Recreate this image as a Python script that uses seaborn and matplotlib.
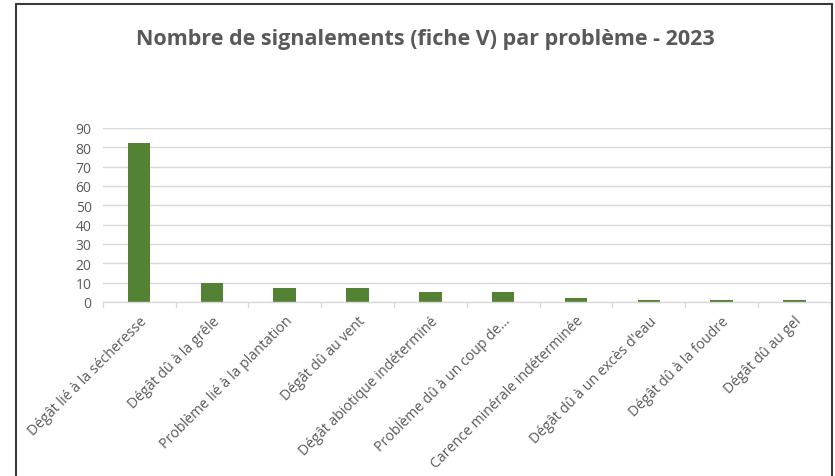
import matplotlib
matplotlib.use("Agg")
import matplotlib.pyplot as plt
import pandas as pd
import seaborn as sns
from matplotlib.lines import Line2D

problemes = [
    "Dégât lié à la sécheresse",
    "Dégât dû à la grêle",
    "Problème lié à la plantation",
    "Dégât dû au vent",
    "Dégât abiotique indéterminé",
    "Problème dû à un coup de…",
    "Carence minérale indéterminée",
    "Dégât dû à un excès d'eau",
    "Dégât dû à la foudre",
    "Dégât dû au gel",
]
signalements = [82, 10, 7, 7, 5, 5, 2, 1, 1, 1]
yticks = [0, 10, 20, 30, 40, 50, 60, 70, 80, 90]

df = pd.DataFrame({"probleme": problemes, "n": signalements})

sns.set_theme(style="white")
plt.rcParams["font.family"] = ["Open Sans", "DejaVu Sans"]

fig = plt.figure(figsize=(8.35, 4.77), dpi=100)
ax = fig.add_axes([0.123, 0.3648, 0.872, 0.3648])

sns.barplot(data=df, x="probleme", y="n", color="#548235", width=0.31,
            saturation=1, linewidth=0, ax=ax)

ax.set_ylim(0, 90)
ax.set_yticks(yticks)
ax.set_xlim(-0.5, len(problemes) - 0.5)
ax.grid(axis="y", color="#d9d9d9", linewidth=1)
ax.set_axisbelow(True)
for s in ["top", "right", "left"]:
    ax.spines[s].set_visible(False)
ax.spines["bottom"].set_color("#d9d9d9")
ax.spines["bottom"].set_linewidth(1)

ax.set_xlabel("")
ax.set_ylabel("")
ax.tick_params(axis="y", length=0, labelsize=10, labelcolor="#595959", pad=8)
ax.tick_params(axis="x", length=0, labelsize=10.2, labelcolor="#595959", pad=8)
ax.set_xticks(range(len(problemes)))
ax.set_xticklabels(problemes, rotation=45, ha="right", rotation_mode="anchor")

# petites graduations entre les catégories
for i in range(len(problemes) + 1):
    ax.plot([i - 0.5, i - 0.5], [0, -2.5], color="#d9d9d9", lw=1,
            clip_on=False)

fig.text(0.509, 0.918, "Nombre de signalements (fiche V) par problème - 2023",
         ha="center", va="center", fontsize=15.5, fontweight="bold",
         color="#595959")

# cadre du graphique
x0, x1, yt = 16 / 835, 832 / 835, 1 - 5 / 477
for xs, ys in [([x0, x0], [0, yt]), ([x0, x1], [yt, yt]), ([x1, x1], [yt, 0])]:
    fig.add_artist(Line2D(xs, ys, color="#3a3a3a", lw=1.5,
                          transform=fig.transFigure))

fig.savefig("out.png", dpi=100)
